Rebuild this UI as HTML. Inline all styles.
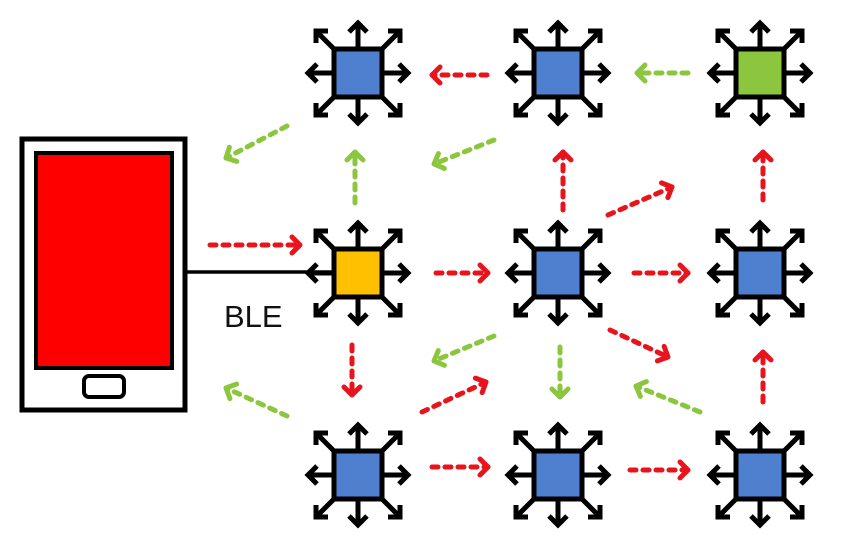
<!DOCTYPE html>
<html><head><meta charset="utf-8"><style>
html,body{margin:0;padding:0;background:#fff;}
svg{display:block;}
</style></head><body>
<svg width="851" height="545" viewBox="0 0 851 545" xmlns="http://www.w3.org/2000/svg">
<defs>
<marker id="mr" markerUnits="userSpaceOnUse" markerWidth="30" markerHeight="30" refX="15" refY="15" orient="auto" viewBox="0 0 30 30">
<path d="M7,7 L15,15 L7,23" fill="none" stroke="#e8141c" stroke-width="5" stroke-linecap="round" stroke-linejoin="round"/>
</marker>
<marker id="mg" markerUnits="userSpaceOnUse" markerWidth="30" markerHeight="30" refX="15" refY="15" orient="auto" viewBox="0 0 30 30">
<path d="M7,7 L15,15 L7,23" fill="none" stroke="#8cc63f" stroke-width="5" stroke-linecap="round" stroke-linejoin="round"/>
</marker>
<g id="arms" fill="none" stroke="#000" stroke-width="5" stroke-linejoin="miter">
<path d="M24,0 H50 M41,-9 L50,0 L41,9"/>
<path d="M-24,0 H-50 M-41,-9 L-50,0 L-41,9"/>
<path d="M0,24 V50 M-9,41 L0,50 L9,41"/>
<path d="M0,-24 V-50 M-9,-41 L0,-50 L9,-41"/>
<path d="M22,22 L42,42 M42,30 V42 H30"/>
<path d="M-22,22 L-42,42 M-42,30 V42 H-30"/>
<path d="M22,-22 L42,-42 M42,-30 V-42 H30"/>
<path d="M-22,-22 L-42,-42 M-42,-30 V-42 H-30"/>
</g>
</defs>

<rect x="22" y="139" width="163" height="271" fill="#fff" stroke="#000" stroke-width="5"/>
<rect x="36" y="153" width="136" height="215" fill="#f00" stroke="#000" stroke-width="4"/>
<rect x="84" y="376" width="40" height="21" rx="5" fill="#fff" stroke="#000" stroke-width="4"/>
<line x1="185" y1="272" x2="336" y2="272" stroke="#000" stroke-width="3.5"/>
<text x="224" y="327" font-family="Liberation Sans, sans-serif" font-size="31" fill="#111">BLE</text>

<g transform="translate(358,73)"><use href="#arms"/><rect x="-24" y="-24" width="48" height="48" fill="#4f7fcf" stroke="#000" stroke-width="5"/></g>
<g transform="translate(558,73)"><use href="#arms"/><rect x="-24" y="-24" width="48" height="48" fill="#4f7fcf" stroke="#000" stroke-width="5"/></g>
<g transform="translate(760,73)"><use href="#arms"/><rect x="-24" y="-24" width="48" height="48" fill="#8cc63f" stroke="#000" stroke-width="5"/></g>
<g transform="translate(358,273)"><use href="#arms"/><rect x="-24" y="-24" width="48" height="48" fill="#ffc000" stroke="#000" stroke-width="5"/></g>
<g transform="translate(558,273)"><use href="#arms"/><rect x="-24" y="-24" width="48" height="48" fill="#4f7fcf" stroke="#000" stroke-width="5"/></g>
<g transform="translate(760,273)"><use href="#arms"/><rect x="-24" y="-24" width="48" height="48" fill="#4f7fcf" stroke="#000" stroke-width="5"/></g>
<g transform="translate(358,475)"><use href="#arms"/><rect x="-24" y="-24" width="48" height="48" fill="#4f7fcf" stroke="#000" stroke-width="5"/></g>
<g transform="translate(558,475)"><use href="#arms"/><rect x="-24" y="-24" width="48" height="48" fill="#4f7fcf" stroke="#000" stroke-width="5"/></g>
<g transform="translate(760,475)"><use href="#arms"/><rect x="-24" y="-24" width="48" height="48" fill="#4f7fcf" stroke="#000" stroke-width="5"/></g>

<g fill="none" stroke="#e8141c" stroke-width="5" stroke-dasharray="6 7" stroke-linecap="round" marker-end="url(#mr)">
<path d="M210,245 L300,245"/>
<path d="M487,75 L432,75"/>
<path d="M436,273 L488,273"/>
<path d="M634,273 L688,273"/>
<path d="M563,210 L563,152"/>
<path d="M763,200 L763,152"/>
<path d="M608,215 L672,187"/>
<path d="M610,330 L668,357"/>
<path d="M352,345 L352,395"/>
<path d="M422,412 L486,382"/>
<path d="M432,467 L488,467"/>
<path d="M630,470 L688,470"/>
<path d="M763,402 L763,352"/>
</g>
<g fill="none" stroke="#8cc63f" stroke-width="5" stroke-dasharray="6 7" stroke-linecap="round" marker-end="url(#mg)">
<path d="M688,73 L637,73"/>
<path d="M287,126 L226,158"/>
<path d="M355,203 L355,152"/>
<path d="M494,140 L434,164"/>
<path d="M494,336 L434,361"/>
<path d="M560,347 L560,397"/>
<path d="M700,412 L636,386"/>
<path d="M287,416 L226,388"/>
</g>
</svg>
</body></html>
